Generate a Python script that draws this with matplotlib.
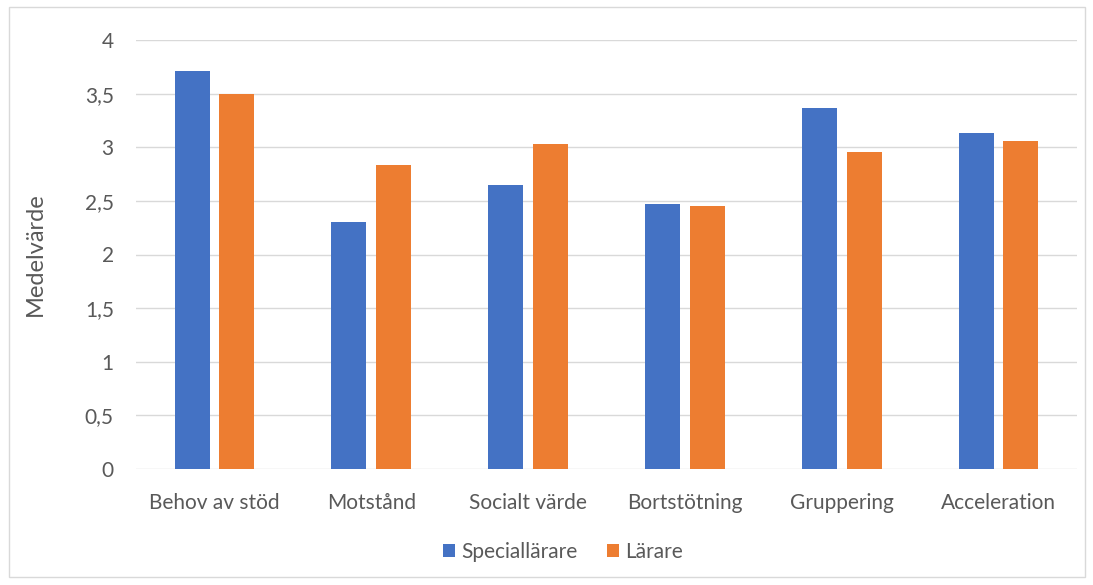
import matplotlib.pyplot as plt
import numpy as np

categories = ['Behov av stöd', 'Motstånd', 'Socialt värde', 'Bortstötning', 'Gruppering', 'Acceleration']
speciallarare = [3.71, 2.30, 2.65, 2.47, 3.37, 3.13]
larare = [3.50, 2.83, 3.03, 2.45, 2.96, 3.06]
yticks = [0, 0.5, 1, 1.5, 2, 2.5, 3, 3.5, 4]
ytick_labels = ['0', '0,5', '1', '1,5', '2', '2,5', '3', '3,5', '4']

plt.rcParams['font.family'] = ['Lato', 'DejaVu Sans']
text_col = '#595959'

fig = plt.figure(figsize=(10.93, 5.85), dpi=100)
# outer chart border
fig.patches.append(plt.Rectangle((9 / 1093, 8 / 585), 1076 / 1093, 570 / 585,
                                 transform=fig.transFigure, fill=False,
                                 edgecolor='#D9D9D9', linewidth=1))
ax = fig.add_axes([136 / 1093, 1 - 469 / 585, 941 / 1093, 429 / 585])

x = np.arange(len(categories))
w = 0.223
off = w / 2 + 0.031
ax.bar(x - off, speciallarare, w, color='#4472C4', label='Speciallärare', zorder=3)
ax.bar(x + off, larare, w, color='#ED7D31', label='Lärare', zorder=3)

ax.set_xlim(-0.5, len(categories) - 0.5)
ax.set_ylim(0, 4)
ax.set_yticks(yticks)
ax.set_yticklabels(ytick_labels)
ax.set_xticks(x)
ax.set_xticklabels(categories)
ax.grid(axis='y', color='#D9D9D9', linewidth=1, zorder=0)
for s in ['top', 'right', 'left', 'bottom']:
    ax.spines[s].set_visible(False)
ax.tick_params(axis='both', length=0, labelsize=15, labelcolor=text_col)
ax.tick_params(axis='y', pad=16)
ax.tick_params(axis='x', pad=17)
ax.set_ylabel('Medelvärde', fontsize=17, color=text_col, labelpad=28)

leg = fig.legend(loc='center', bbox_to_anchor=(563 / 1093, 1 - 552 / 585), ncol=2,
                 frameon=False, fontsize=15, handlelength=0.6, handleheight=0.6,
                 handletextpad=0.3, columnspacing=1.4)
for t in leg.get_texts():
    t.set_color(text_col)

fig.savefig('out.png', dpi=100)
